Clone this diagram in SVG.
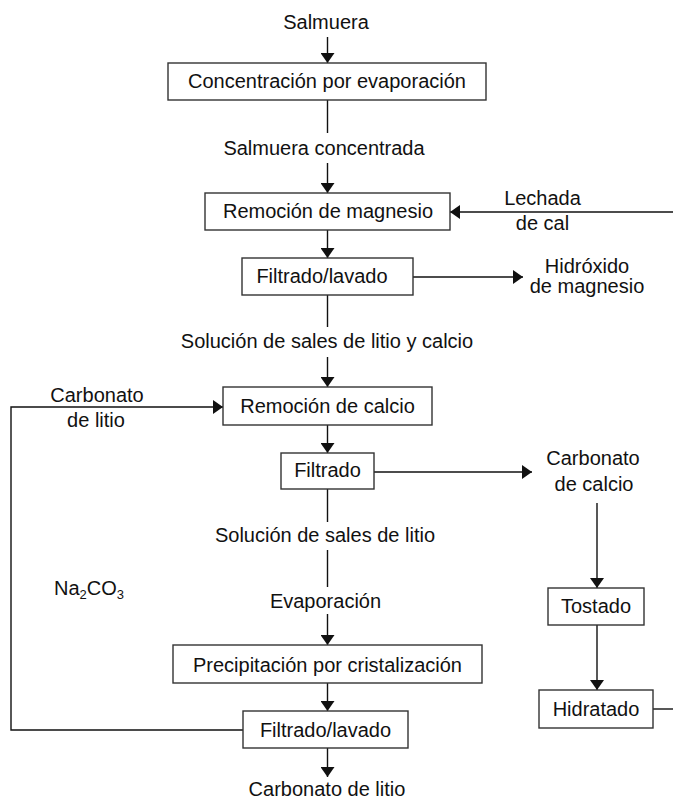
<svg xmlns="http://www.w3.org/2000/svg" width="673" height="800" viewBox="0 0 673 800">
<style>
  text { font-family: "Liberation Sans", Arial, sans-serif; font-size: 20px; fill: #111; }
  .c { text-anchor: middle; }
  .box { fill: #fff; stroke: #333; stroke-width: 1.4; }
  .ln { fill: none; stroke: #111; stroke-width: 1.4; }
  .sub { font-size: 13px; }
</style>
<defs>
  <marker id="ah" markerUnits="userSpaceOnUse" markerWidth="14" markerHeight="14" viewBox="0 0 10 14" refX="10" refY="7" orient="auto">
    <path d="M0,0 L10,7 L0,14 Z" fill="#111"/>
  </marker>
</defs>
<rect width="673" height="800" fill="#fff"/>
<g id="connectors">
  <line class="ln" x1="327.5" y1="37" x2="327.5" y2="63" marker-end="url(#ah)"/>
  <line class="ln" x1="327.5" y1="100" x2="327.5" y2="133"/>
  <line class="ln" x1="327.5" y1="163" x2="327.5" y2="193" marker-end="url(#ah)"/>
  <line class="ln" x1="673" y1="212" x2="450" y2="212" marker-end="url(#ah)"/>
  <line class="ln" x1="327.5" y1="230" x2="327.5" y2="258" marker-end="url(#ah)"/>
  <line class="ln" x1="413" y1="277" x2="523" y2="277" marker-end="url(#ah)"/>
  <line class="ln" x1="327.5" y1="295" x2="327.5" y2="327"/>
  <line class="ln" x1="327.5" y1="357" x2="327.5" y2="387" marker-end="url(#ah)"/>
  <polyline class="ln" points="243,730 11,730 11,407 223,407" marker-end="url(#ah)"/>
  <line class="ln" x1="327.5" y1="425" x2="327.5" y2="453" marker-end="url(#ah)"/>
  <line class="ln" x1="374" y1="472" x2="532" y2="472" marker-end="url(#ah)"/>
  <line class="ln" x1="327.5" y1="489" x2="327.5" y2="522"/>
  <line class="ln" x1="327.5" y1="550" x2="327.5" y2="587"/>
  <line class="ln" x1="327.5" y1="614" x2="327.5" y2="645" marker-end="url(#ah)"/>
  <line class="ln" x1="327.5" y1="683" x2="327.5" y2="711" marker-end="url(#ah)"/>
  <line class="ln" x1="327.5" y1="748" x2="327.5" y2="777" marker-end="url(#ah)"/>
  <line class="ln" x1="597" y1="503" x2="597" y2="588" marker-end="url(#ah)"/>
  <line class="ln" x1="597" y1="625" x2="597" y2="690" marker-end="url(#ah)"/>
  <line class="ln" x1="653" y1="709" x2="673" y2="709"/>
</g>
<g id="labels">
  <text class="c" x="326" y="29">Salmuera</text>
  <text class="c" x="324" y="155">Salmuera concentrada</text>
  <text class="c" x="542.5" y="205">Lechada</text>
  <text class="c" x="542.5" y="230">de cal</text>
  <text class="c" x="587" y="273">Hidróxido</text>
  <text class="c" x="587" y="293">de magnesio</text>
  <text class="c" x="327" y="348">Solución de sales de litio y calcio</text>
  <text class="c" x="97" y="402">Carbonato</text>
  <text class="c" x="96" y="427">de litio</text>
  <text class="c" x="593" y="465">Carbonato</text>
  <text class="c" x="594" y="491">de calcio</text>
  <text class="c" x="325" y="542">Solución de sales de litio</text>
  <text x="54" y="595">Na<tspan class="sub" dy="4">2</tspan><tspan dy="-4">CO</tspan><tspan class="sub" dy="4">3</tspan></text>
  <text class="c" x="325.5" y="608">Evaporación</text>
  <text class="c" x="327" y="796">Carbonato de litio</text>
</g>
<g id="n1"><rect class="box" x="168" y="63" width="318" height="37"/><text class="c" x="327" y="88">Concentración por evaporación</text></g>
<g id="n2"><rect class="box" x="205" y="193" width="245" height="37"/><text class="c" x="328" y="218">Remoción de magnesio</text></g>
<g id="n3"><rect class="box" x="242" y="258" width="171" height="37"/><text class="c" x="322" y="283">Filtrado/lavado</text></g>
<g id="n4"><rect class="box" x="223" y="387" width="209" height="38"/><text class="c" x="327.5" y="413">Remoción de calcio</text></g>
<g id="n5"><rect class="box" x="281" y="453" width="93" height="36"/><text class="c" x="327.5" y="477">Filtrado</text></g>
<g id="n6"><rect class="box" x="173" y="645" width="309" height="38"/><text class="c" x="327.5" y="672">Precipitación por cristalización</text></g>
<g id="n7"><rect class="box" x="243" y="711" width="165" height="37"/><text class="c" x="325.5" y="737">Filtrado/lavado</text></g>
<g id="n8"><rect class="box" x="548" y="588" width="96" height="37"/><text class="c" x="596" y="613">Tostado</text></g>
<g id="n9"><rect class="box" x="539" y="690" width="114" height="38"/><text class="c" x="596" y="716">Hidratado</text></g>
</svg>
